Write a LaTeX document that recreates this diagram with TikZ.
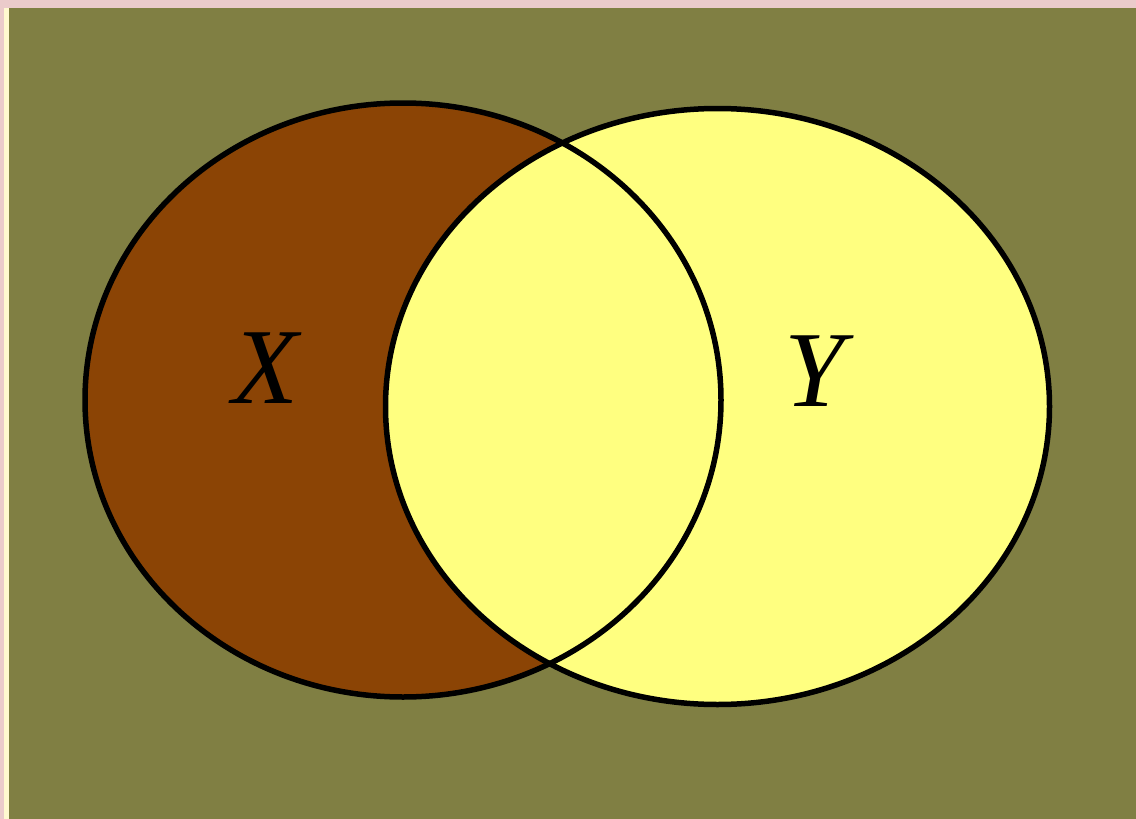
\documentclass[tikz,border=0pt]{standalone}
\usepackage{fontspec}
\setmainfont{Liberation Serif}
\definecolor{bgolive}{HTML}{807F43}
\definecolor{pinkedge}{HTML}{EBCBCB}
\definecolor{creamedge}{HTML}{FFF9D0}
\definecolor{brownset}{HTML}{8B4405}
\definecolor{yellowset}{HTML}{FFFF80}
\tikzset{
  setline/.style={draw=black, line width=5.5pt},
  setlabel/.style={font=\fontsize{108}{108}\selectfont\itshape, text=black, inner sep=0pt}
}
\begin{document}
\begin{tikzpicture}[x=1pt,y=-1pt]
\useasboundingbox (0,0) rectangle (1136,819);
\fill[pinkedge] (0,0) rectangle (1136,819);
\fill[creamedge] (4,8) rectangle (9,819);
\fill[bgolive] (9,8) rectangle (1136,819);
% sets
\fill[brownset] (403,400) ellipse [x radius=318, y radius=297];
\path[setline, fill=yellowset] (717.5,406.5) ellipse [x radius=332, y radius=298];
\draw[setline] (403,400) ellipse [x radius=318, y radius=297];
\node[setlabel] (lx) at (265,368) {X};
\node[setlabel] (ly) at (815,371) {Y};
\end{tikzpicture}
\end{document}
